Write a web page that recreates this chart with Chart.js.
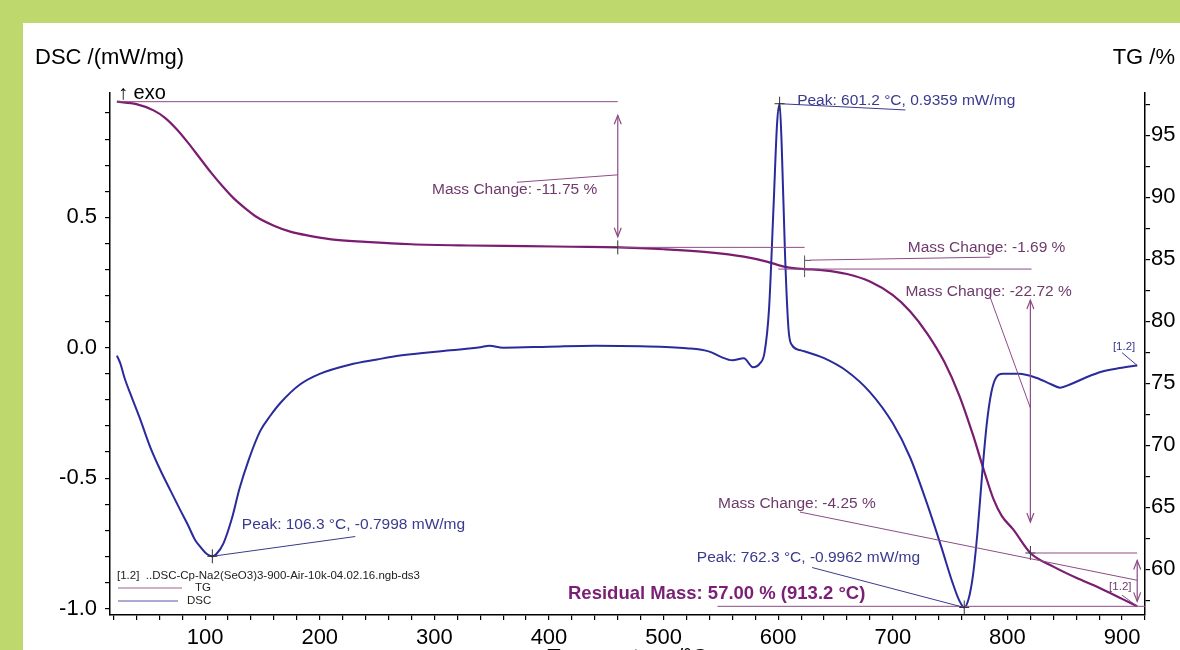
<!DOCTYPE html>
<html>
<head>
<meta charset="utf-8">
<title>DSC / TG</title>
<script src="https://cdn.jsdelivr.net/npm/chart.js@4.4.0/dist/chart.umd.min.js"></script>
<style>
  html, body { margin: 0; padding: 0; background: #bfd86e; overflow: hidden; }
  #frame { position: absolute; left: 23px; top: 23px; width: 1157px; height: 627px; background: #fff; overflow: hidden; }
  #chart { position: absolute; left: 0; top: 0; }
</style>
</head>
<body>
<div id="frame"><canvas id="chart" width="1157" height="660"></canvas></div>
<script>
// DSC signal, mW/mg
var dscTemp = [23, 26, 30, 36, 43, 52, 61, 70, 78, 85, 91, 96, 100, 103, 106.3,
  110, 116, 123, 130, 138, 148, 157, 166, 183, 200, 226, 250, 270, 314, 340, 348, 360,
  400, 440, 480, 520, 540, 550, 560, 570, 578, 584, 588, 592, 596, 599, 601.2, 603, 606, 609, 612,
  620, 640, 660, 680, 700, 715, 730, 742, 752, 758, 762.3,
  766, 770, 774, 778, 782, 786, 790, 796, 810, 825, 838, 846, 855, 868, 882, 898, 913.2];
var dscValue = [-0.03, -0.06, -0.12, -0.19, -0.27, -0.38, -0.47, -0.55, -0.62, -0.68, -0.735, -0.765, -0.785, -0.795, -0.7998,
  -0.79, -0.75, -0.66, -0.54, -0.43, -0.32, -0.26, -0.21, -0.14, -0.10, -0.065, -0.045, -0.03, -0.01, 0.002, 0.008, 0.0,
  0.004, 0.008, 0.006, -0.002, -0.015, -0.035, -0.048, -0.04, -0.075, -0.06, -0.02, 0.15, 0.55, 0.86, 0.9359, 0.78, 0.35, 0.07, 0.01,
  -0.01, -0.04, -0.09, -0.17, -0.29, -0.42, -0.60, -0.76, -0.90, -0.97, -0.9962,
  -0.965, -0.87, -0.70, -0.48, -0.29, -0.17, -0.115, -0.10, -0.10, -0.115, -0.14, -0.153, -0.14, -0.115, -0.092, -0.078, -0.068];

// TG signal, %
var tgTemp = [23, 40, 55, 65, 75, 85, 95, 105, 115, 125, 135, 145, 160, 175, 190, 210, 240, 280, 330, 380, 420, 460,
  500, 540, 570, 590, 605, 615, 623, 640, 660, 680, 700, 715, 730, 745, 758, 770, 780, 788, 795, 805, 820,
  840, 860, 880, 900, 913.2];
var tgValue = [97.7, 97.5, 97.0, 96.4, 95.5, 94.4, 93.2, 92.0, 90.9, 89.9, 89.1, 88.4, 87.7, 87.2, 86.9, 86.6, 86.4, 86.2, 86.1, 86.05, 86.0, 85.95,
  85.8, 85.55, 85.2, 84.8, 84.4, 84.25, 84.2, 84.1, 83.8, 83.2, 82.1, 80.8, 79.0, 76.7, 74.0, 70.8, 67.8, 65.6, 64.3, 63.2, 61.3,
  60.2, 59.3, 58.5, 57.6, 57.0];

var FONT = '"Liberation Sans", Arial, Helvetica, sans-serif';
var PURPLE_LINE = '#8c4c86';
var PURPLE_TEXT = '#6e3a6c';
var NAVY = '#3a3a8e';

function points(xs, ys) {
  var out = [];
  for (var i = 0; i < xs.length; i++) out.push({ x: xs[i], y: ys[i] });
  return out;
}

var notesPlugin = {
  id: 'thermoNotes',
  afterDatasetsDraw: function (chart) {
    var ctx = chart.ctx;
    var area = chart.chartArea;
    var sx = chart.scales.x, sd = chart.scales.yDsc, st = chart.scales.yTg;
    function X(t) { return sx.getPixelForValue(t); }
    function D(v) { return sd.getPixelForValue(v); }
    function G(v) { return st.getPixelForValue(v); }

    function seg(x1, y1, x2, y2, color, w) {
      ctx.beginPath();
      ctx.strokeStyle = color;
      ctx.lineWidth = w || 1;
      ctx.moveTo(x1, y1);
      ctx.lineTo(x2, y2);
      ctx.stroke();
    }
    function vArrow(x, y1, y2, color) {
      seg(x, y1, x, y2, color, 1.2);
      ctx.beginPath();
      ctx.moveTo(x - 3.5, y1 + 9); ctx.lineTo(x, y1); ctx.lineTo(x + 3.5, y1 + 9);
      ctx.moveTo(x - 3.5, y2 - 9); ctx.lineTo(x, y2); ctx.lineTo(x + 3.5, y2 - 9);
      ctx.stroke();
    }
    function cross(x, y, color) {
      seg(x - 5, y, x + 5, y, color, 1);
      seg(x, y - 7, x, y + 7, color, 1);
    }
    function text(str, x, y, color, font, align) {
      ctx.fillStyle = color;
      ctx.font = font;
      ctx.textAlign = align || 'left';
      ctx.textBaseline = 'middle';
      ctx.fillText(str, x, y);
    }
    var small = '15.5px ' + FONT;

    ctx.save();

    // axis titles at the top corners
    text('DSC /(mW/mg)', 12, 35, '#000', '22px ' + FONT, 'left');
    text('TG /%', 1152, 35, '#000', '22px ' + FONT, 'right');
    text('\u2191 exo', area.left + 8, area.top, '#000', '20px ' + FONT, 'left');

    // TG step 1
    seg(X(23), G(97.7), X(460), G(97.7), PURPLE_LINE);
    vArrow(X(460), G(96.6), G(86.8), PURPLE_LINE);
    cross(X(460), G(85.95), '#333');
    seg(X(372), G(91.2), X(460), G(91.8), PURPLE_LINE);
    text('Mass Change: -11.75 %', X(298), G(90.56), PURPLE_TEXT, small);

    // TG step 2
    seg(X(460), G(85.95), X(623), G(85.95), PURPLE_LINE);
    seg(X(623), G(85.3), X(623), G(83.55), '#555');
    seg(X(623), G(84.9), X(628.7), G(84.9), '#555');
    seg(X(628), G(84.92), X(785), G(85.16), PURPLE_LINE);
    text('Mass Change: -1.69 %', X(713), G(85.9), PURPLE_TEXT, small);

    // TG step 3
    seg(X(600), G(84.2), X(821), G(84.2), PURPLE_LINE);
    text('Mass Change: -22.72 %', X(711), G(82.4), PURPLE_TEXT, small);
    seg(X(785), G(81.9), X(820), G(73.0), PURPLE_LINE);
    vArrow(X(820), G(81.7), G(63.8), PURPLE_LINE);
    cross(X(820), G(61.3), '#333');

    // TG step 4 and residual
    seg(X(820), G(61.3), X(913.2), G(61.3), PURPLE_LINE);
    text('Mass Change: -4.25 %', X(547.5), G(65.3), PURPLE_TEXT, small);
    seg(X(619), G(64.6), X(913.2), G(59.1), PURPLE_LINE);
    vArrow(X(913.2), G(60.7), G(57.4), PURPLE_LINE);
    seg(X(547), G(57.0), X(920), G(57.0), PURPLE_LINE);
    text('Residual Mass: 57.00 % (913.2 \u00B0C)', X(416.6), G(57.98), '#7a1f74', 'bold 18.5px ' + FONT);
    text('[1.2]', X(888.7), G(58.55), PURPLE_TEXT, '11.5px ' + FONT);
    seg(X(900), G(57.9), X(913.2), G(57.0), PURPLE_LINE);

    // DSC peaks
    text('Peak: 106.3 \u00B0C, -0.7998 mW/mg', X(132), D(-0.678), NAVY, small);
    seg(X(106.3), D(-0.7998), X(231), D(-0.724), NAVY);
    cross(X(106.3), D(-0.7998), '#333');
    text('Peak: 601.2 \u00B0C, 0.9359 mW/mg', X(616.5), D(0.946), NAVY, small);
    seg(X(601.2), D(0.9359), X(711), D(0.912), NAVY);
    cross(X(601.2), D(0.9359), '#333');
    text('Peak: 762.3 \u00B0C, -0.9962 mW/mg', X(529), D(-0.805), NAVY, small);
    seg(X(629.6), D(-0.843), X(762.3), D(-0.9962), NAVY);
    cross(X(762.3), D(-0.9962), '#333');
    text('[1.2]', X(892), D(0.004), NAVY, '11.5px ' + FONT);
    seg(X(900), D(-0.019), X(913.2), D(-0.068), NAVY);

    // file legend, bottom left
    text('[1.2]  ..DSC-Cp-Na2(SeO3)3-900-Air-10k-04.02.16.ngb-ds3', area.left + 7, area.bottom - 39, '#222', '11.5px ' + FONT);
    seg(area.left + 8, area.bottom - 27, area.left + 72, area.bottom - 27, '#a0608f');
    text('TG', area.left + 85, area.bottom - 27, '#222', '11.5px ' + FONT);
    seg(area.left + 8, area.bottom - 14, area.left + 68, area.bottom - 14, '#5555aa');
    text('DSC', area.left + 77, area.bottom - 14, '#222', '11.5px ' + FONT);

    ctx.restore();
  }
};

var tickFont = { family: FONT, size: 22 };
var axisGrid = { drawOnChartArea: false, drawTicks: true, tickLength: 5, color: '#000', lineWidth: 1.2 };
var axisBorder = { display: true, color: '#000', width: 1.5 };

var chart = new Chart(document.getElementById('chart').getContext('2d'), {
  type: 'line',
  data: {
    datasets: [{
      label: 'DSC',
      yAxisID: 'yDsc',
      data: points(dscTemp, dscValue),
      borderColor: '#2a2a9c',
      borderWidth: 2,
      pointRadius: 0,
      fill: false,
      cubicInterpolationMode: 'monotone'
    }, {
      label: 'TG',
      yAxisID: 'yTg',
      data: points(tgTemp, tgValue),
      borderColor: '#7a1c70',
      borderWidth: 2.2,
      pointRadius: 0,
      fill: false,
      cubicInterpolationMode: 'monotone'
    }]
  },
  options: {
    responsive: false,
    animation: false,
    layout: { padding: { top: 70, left: 0, right: 0, bottom: 0 } },
    plugins: { legend: { display: false }, tooltip: { enabled: false } },
    scales: {
      x: {
        type: 'linear',
        position: 'bottom',
        min: 17,
        max: 920,
        grid: axisGrid,
        border: axisBorder,
        ticks: {
          stepSize: 20, includeBounds: false, autoSkip: false, maxRotation: 0,
          padding: 5, color: '#000', font: tickFont,
          callback: function (v) { return Math.abs(v % 100) < 1e-6 ? String(v) : ''; }
        },
        title: { display: true, text: 'Temperature /\u00B0C', color: '#000', font: tickFont, padding: { top: 0, bottom: 12 } },
        afterFit: function (s) { s.height = 68; }
      },
      yDsc: {
        type: 'linear',
        position: 'left',
        min: -1.025,
        max: 0.977,
        grid: axisGrid,
        border: axisBorder,
        ticks: {
          stepSize: 0.1, includeBounds: false, autoSkip: false,
          padding: 8, color: '#000', font: tickFont,
          callback: function (v) { return Math.abs(v * 2 - Math.round(v * 2)) < 1e-6 ? v.toFixed(1) : ''; }
        },
        afterFit: function (s) { s.width = 87; }
      },
      yTg: {
        type: 'linear',
        position: 'right',
        min: 56.3,
        max: 98.4,
        grid: axisGrid,
        border: axisBorder,
        ticks: {
          stepSize: 2.5, includeBounds: false, autoSkip: false,
          padding: 1, color: '#000', font: tickFont,
          callback: function (v) { return Math.abs(v % 5) < 1e-6 ? String(v) : ''; }
        },
        afterFit: function (s) { s.width = 35; }
      }
    }
  },
  plugins: [notesPlugin]
});
</script>
</body>
</html>
